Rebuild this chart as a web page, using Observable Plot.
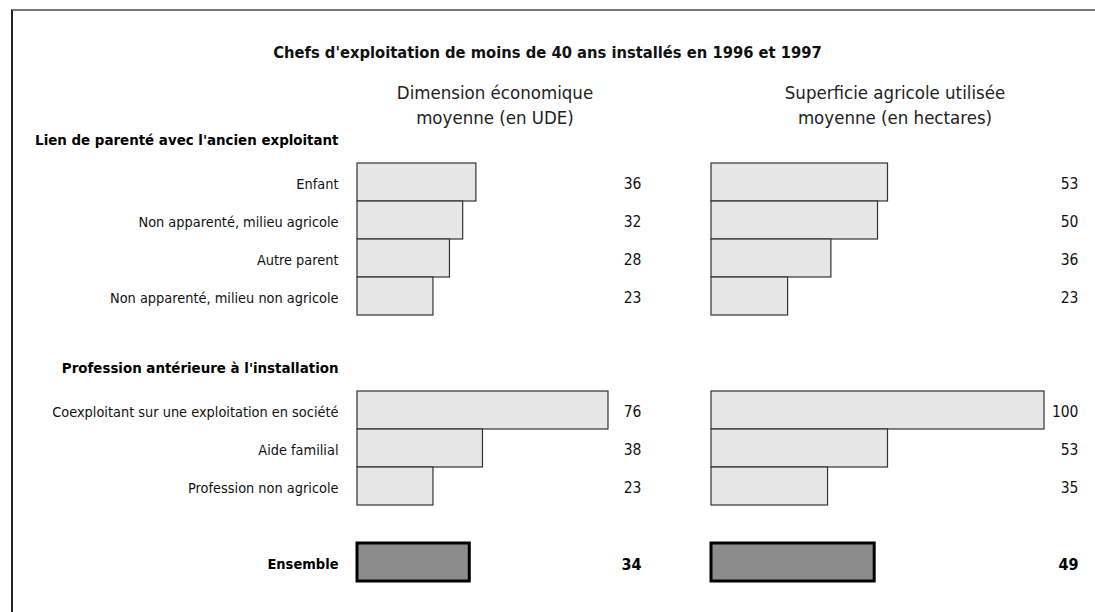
<!DOCTYPE html>
<html>
<head>
<meta charset="utf-8">
<script src="https://cdn.jsdelivr.net/npm/d3@7"></script>
<script src="https://cdn.jsdelivr.net/npm/@observablehq/plot@0.6"></script>
<style>
  html, body { margin: 0; padding: 0; background: #fff; }
  #wrap { position: relative; width: 1095px; height: 612px; overflow: hidden; background: #fff; }
  #frame { position: absolute; left: 11px; top: 9px; width: 1200px; height: 700px;
           border-top: 2px solid #777; border-left: 2px solid #222; }
  .plot { position: absolute; left: 0; top: 0; }
  .title { position: absolute; left: 0; width: 1095px; top: 43px; text-align: center;
           font-family: "DejaVu Sans Condensed", "Liberation Sans Narrow", sans-serif;
           font-weight: bold; font-size: 16.4px; color: #111; }
  .colhead { position: absolute; top: 80px; width: 300px; text-align: center;
             font-family: "DejaVu Sans Condensed", "Liberation Sans Narrow", sans-serif;
             font-size: 18.5px; line-height: 25px; color: #222; }
</style>
</head>
<body>
<div id="wrap">
  <div id="frame"></div>
  <div class="title" id="title"></div>
  <div class="colhead" id="h1" style="left:345px"></div>
  <div class="colhead" id="h2" style="left:745px"></div>
</div>
<script>
// ---- data ----
const title = "Chefs d'exploitation de moins de 40 ans installés en 1996 et 1997";
const colHeaders = ["Dimension économique<br>moyenne (en UDE)", "Superficie agricole utilisée<br>moyenne (en hectares)"];
const groupHeaders = ["Lien de parenté avec l'ancien exploitant", "Profession antérieure à l'installation"];
const group1 = ["Enfant", "Non apparenté, milieu agricole", "Autre parent", "Non apparenté, milieu non agricole"];
const group2 = ["Coexploitant sur une exploitation en société", "Aide familial", "Profession non agricole"];
const ude1 = [36, 32, 28, 23];
const ude2 = [76, 38, 23];
const sau1 = [53, 50, 36, 23];
const sau2 = [100, 53, 35];
const totalLabel = "Ensemble";
const udeTotal = 34;
const sauTotal = 49;

// ---- layout helpers ----
document.getElementById("title").textContent = title;
document.getElementById("h1").innerHTML = colHeaders[0];
document.getElementById("h2").innerHTML = colHeaders[1];

const yDomain = ["__g1", ...group1, "__s1", "__g2", ...group2, "__s2", totalLabel];
const rows = (vals1, vals2) => [
  ...group1.map((k, i) => ({key: k, value: vals1[i]})),
  ...group2.map((k, i) => ({key: k, value: vals2[i]}))
];
const udeRows = rows(ude1, ude2);
const sauRows = rows(sau1, sau2);
const headRows = [{key: "__g1", label: groupHeaders[0]}, {key: "__g2", label: groupHeaders[1]}];
const FONT = "DejaVu Sans Condensed, Liberation Sans Narrow, sans-serif";

function panel({data, total, marginLeft, marginRight, xMax, withLabels}) {
  const marks = [
    Plot.barX(data, {y: "key", x: "value", fill: "#e6e6e6", stroke: "#333", strokeWidth: 1.2}),
    Plot.barX([{key: totalLabel, value: total}], {y: "key", x: "value", fill: "#8c8c8c", stroke: "#000", strokeWidth: 3}),
    Plot.text(data, {y: "key", text: d => String(d.value), frameAnchor: "right", textAnchor: "end", fontSize: 15.5, fill: "#111", dy: 2}),
    Plot.text([{key: totalLabel, value: total}], {y: "key", text: d => String(d.value), frameAnchor: "right", textAnchor: "end", fontSize: 16, fontWeight: "bold", fill: "#000", dy: 2})
  ];
  if (withLabels) {
    marks.push(
      Plot.text(data, {y: "key", text: "key", frameAnchor: "left", textAnchor: "end", dx: -19, fontSize: 14.4, fill: "#111", dy: 2}),
      Plot.text(headRows, {y: "key", text: "label", frameAnchor: "left", textAnchor: "end", dx: -19, dy: -4, fontSize: 14.9, fontWeight: "bold", fill: "#000"}),
      Plot.text([{key: totalLabel}], {y: "key", text: "key", frameAnchor: "left", textAnchor: "end", dx: -19, fontSize: 14.5, fontWeight: "bold", fill: "#000", dy: 2})
    );
  }
  return Plot.plot({
    width: 1095, height: 612,
    marginTop: 125, marginBottom: 31, marginLeft, marginRight,
    style: {fontFamily: FONT, background: "transparent", overflow: "visible"},
    x: {domain: [0, xMax], axis: null},
    y: {type: "band", domain: yDomain, padding: 0, axis: null},
    marks
  });
}

const p1 = panel({data: udeRows, total: udeTotal, marginLeft: 357, marginRight: 1095 - 641, xMax: 86, withLabels: true});
const p2 = panel({data: sauRows, total: sauTotal, marginLeft: 711, marginRight: 1095 - 1078, xMax: 110.2, withLabels: false});
p1.classList.add("plot"); p2.classList.add("plot");
const wrap = document.getElementById("wrap");
wrap.appendChild(p1); wrap.appendChild(p2);
</script>
</body>
</html>
